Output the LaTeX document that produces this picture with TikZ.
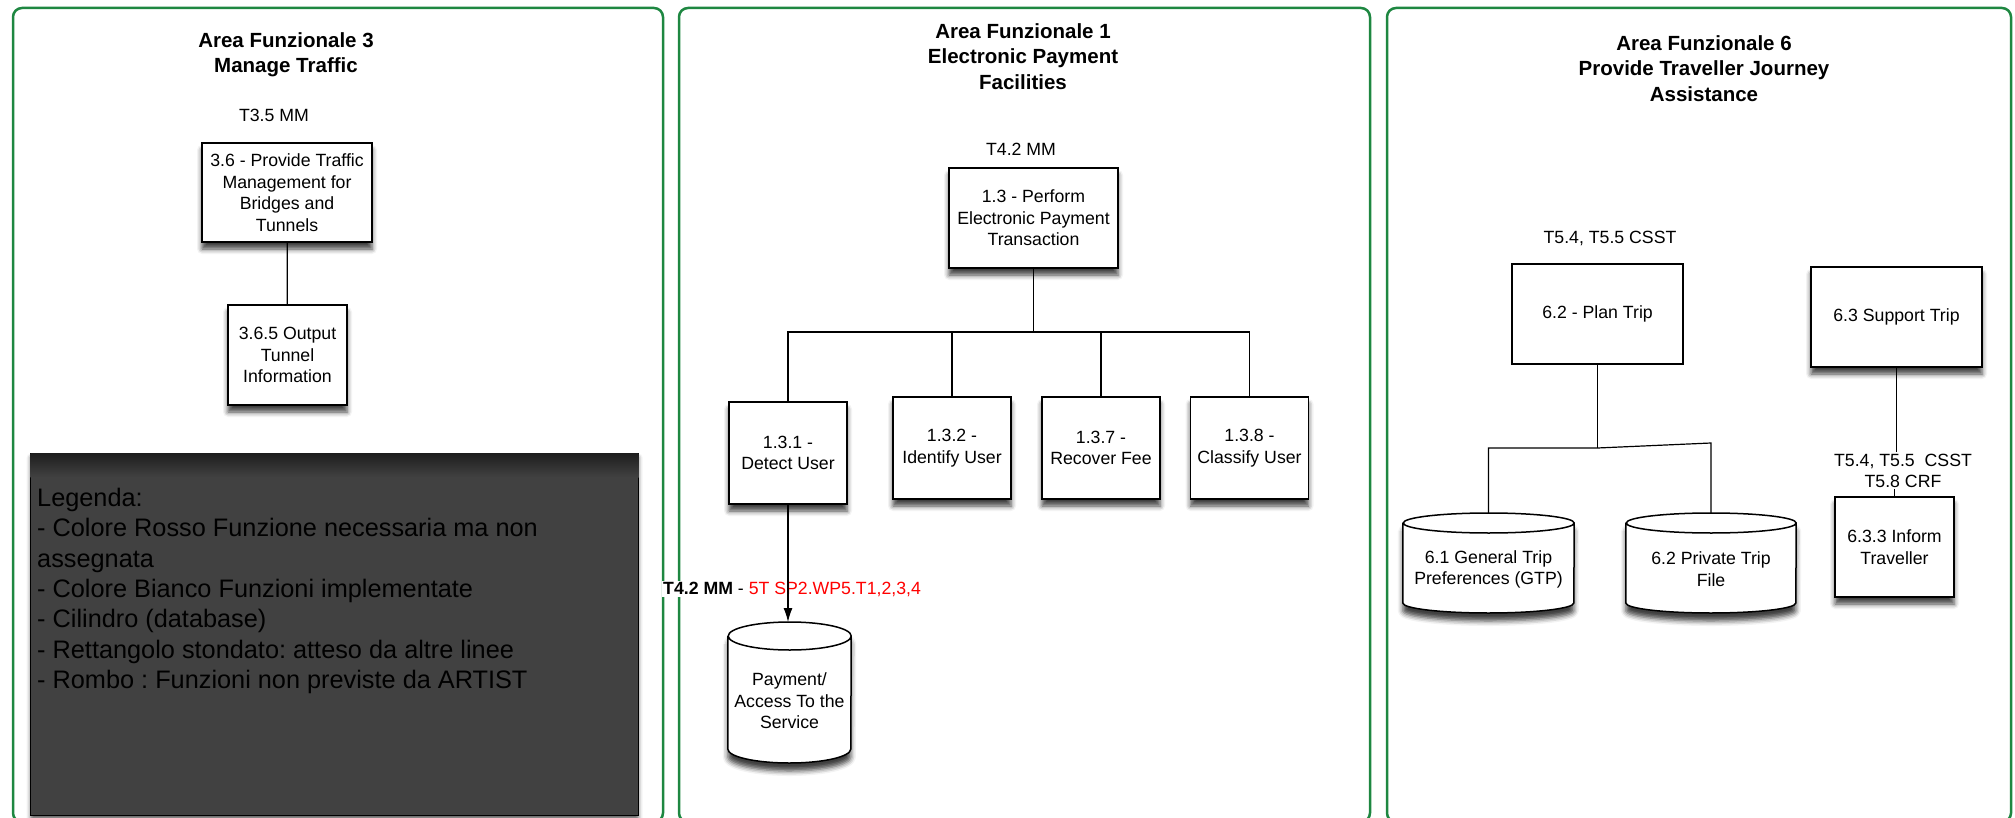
\documentclass[tikz,border=0pt]{standalone}
\usepackage{fontspec}
\setmainfont{Liberation Sans}
\usetikzlibrary{arrows.meta,shadows.blur,backgrounds}

\definecolor{panelgreen}{RGB}{30,135,65}
\definecolor{legendgray}{RGB}{65,65,65}
\definecolor{tagred}{RGB}{255,0,0}

\tikzset{
  panel/.style={draw=panelgreen, line width=2.5pt, rounded corners=9pt},
  title/.style={font=\fontsize{20.5}{25.3}\selectfont\bfseries, align=center, inner sep=0pt},
  tag/.style={font=\fontsize{17.7}{21}\selectfont, align=center, inner sep=1.5pt},
  basefunc/.style={font=\fontsize{17.7}{21.5}\selectfont, draw, line width=1.5pt,
    fill=white, align=center, inner sep=2pt},
  func/.style={basefunc, blur shadow={shadow xshift=0pt, shadow yshift=-7pt,
    shadow blur radius=5pt, shadow opacity=75}},
  subfunc/.style={func, minimum width=118pt, minimum height=102pt},
  dbtext/.style={font=\fontsize{17.7}{21.5}\selectfont, align=center, inner sep=0pt},
  dbline/.style={draw, line width=1.5pt, fill=white, blur shadow={shadow xshift=0pt,
    shadow yshift=-8pt, shadow blur radius=5pt, shadow opacity=75}},
  link/.style={draw, line width=1.2pt},
  legendbox/.style={draw=black, line width=1.2pt, fill=legendgray, inner sep=0pt,
    blur shadow={shadow xshift=0pt, shadow yshift=-4pt, shadow blur radius=4pt, shadow opacity=60}},
  legendtxt/.style={font=\fontsize{25.3}{30.3}\selectfont, align=left, inner sep=0pt, text=black}
}

\begin{document}
\frenchspacing
\begin{tikzpicture}[x=1pt, y=-1pt]
  \path[use as bounding box, clip] (0,0) rectangle (2015,818);

  % the three functional areas
  \draw[panel] (13,8) rectangle (663,822);
  \draw[panel] (679,8) rectangle (1370,822);
  \draw[panel] (1387,8) rectangle (2011,822);

  \node[title] (t3) at (286,54.5) {Area Funzionale 3\\Manage Traffic};
  \node[title] (t1) at (1023,56.5) {Area Funzionale 1\\Electronic Payment\\Facilities};
  \node[title] (t6) at (1704,68.5) {Area Funzionale 6\\Provide Traveller Journey\\Assistance};

  % area 3
  \node[tag] (tag3) at (274,115) {T3.5 MM};
  \node[func, minimum width=170pt, minimum height=99pt] (prov) at (287,192.5)
    {3.6 - Provide Traffic\\Management for\\Bridges and\\Tunnels};
  \node[func, minimum width=119pt, minimum height=100pt] (outp) at (287.5,355)
    {3.6.5 Output\\Tunnel\\Information};
  \draw[link] (prov) -- (outp);

  % legend
  \node[legendbox, minimum width=608pt, minimum height=362pt, anchor=north west] (legend) at (30,453) {};
  \shade[top color={rgb,255:red,30;green,30;blue,30}, bottom color=legendgray]
    ([xshift=0.6pt,yshift=-0.6pt]legend.north west) rectangle ([xshift=-0.6pt,yshift=-24pt]legend.north east);
  \node[legendtxt, anchor=north west] (legendtext) at ([xshift=7pt,yshift=-35pt]legend.north west)
    {Legenda:\\- Colore Rosso Funzione necessaria ma non\\assegnata\\- Colore Bianco Funzioni implementate\\- Cilindro (database)\\- Rettangolo stondato: atteso da altre linee\\- Rombo : Funzioni non previste da ARTIST};

  % area 1
  \node[tag] (tag1) at (1021,149) {T4.2 MM};
  \node[func, minimum width=169pt, minimum height=100pt] (perf) at (1033.5,218)
    {1.3 - Perform\\Electronic Payment\\Transaction};
  \node[subfunc] (detect) at (788,453) {1.3.1 -\\Detect User};
  \node[subfunc] (identify) at (952,448) {1.3.2 -\\Identify User};
  \node[subfunc] (recover) at (1101,448) {1.3.7 -\\Recover Fee};
  \node[subfunc] (classify) at (1249.5,448) {1.3.8 -\\Classify User};
  \coordinate (j13) at (perf.south |- 0,332);
  \draw[link] (perf) -- (j13);
  \foreach \c in {detect,identify,recover,classify}
    \draw[link] (j13) -| (\c.north);

  \node[dbtext, minimum width=123pt, minimum height=157pt, anchor=north] (pay) at (789.5,622)
    {Payment/\\Access To the\\Service};
  \node[tag, fill=white, anchor=west, inner sep=1pt] (paytag) at (662,589)
    {\textbf{T4.2 MM} - \textcolor{tagred}{5T SP2.WP5.T1,2,3,4}};
  \draw[link, -{Latex[length=14pt,width=9pt]}] (detect.south) -- (detect.south |- pay.north);

  % area 6
  \node[tag] (tag6) at (1610,238) {T5.4, T5.5 CSST};
  \node[basefunc, minimum width=171pt, minimum height=100pt] (plantrip) at (1597.5,314) {6.2 - Plan Trip};
  \node[func, minimum width=171pt, minimum height=100pt] (support) at (1896.5,317) {6.3 Support Trip};
  \node[dbtext, minimum width=171pt, minimum height=112pt, anchor=north] (gtp) at (1488.5,513)
    {6.1 General Trip\\Preferences (GTP)};
  \node[dbtext, minimum width=170pt, minimum height=112pt, anchor=north] (ptf) at (1711,513)
    {6.2 Private Trip\\File};
  \coordinate (j62) at (plantrip.south |- 0,448);
  \coordinate (k62) at (ptf.north |- 0,443);
  \draw[link] (plantrip) -- (j62);
  \draw[link] (gtp.north) |- (j62) -- (k62) -- (ptf.north);

  \node[tag] (tag63) at (1903,470.5) {T5.4, T5.5\ \ CSST\\T5.8 CRF};
  \node[func, minimum width=119pt, minimum height=100pt] (inform) at (1894.5,547) {6.3.3 Inform\\Traveller};
  \draw[link] (support) -- (support.south |- tag63.north);
  \draw[link] (inform.north |- tag63.south) -- (inform);

  % database cylinders behind their texts
  \begin{scope}[on background layer]
    \foreach \db/\rx/\ry/\h in {pay/61.5/14/141, gtp/85.5/10/100, ptf/85/10/100}
      \draw[dbline] ([yshift=-\ry pt]\db.north west)
        -- ([yshift={-(\h-\ry)*1pt}]\db.north west)
        arc[start angle=180, end angle=360, x radius=\rx pt, y radius=\ry pt]
        -- ([yshift=-\ry pt]\db.north east)
        arc[start angle=0, end angle=360, x radius=\rx pt, y radius=\ry pt];
  \end{scope}
\end{tikzpicture}
\end{document}
